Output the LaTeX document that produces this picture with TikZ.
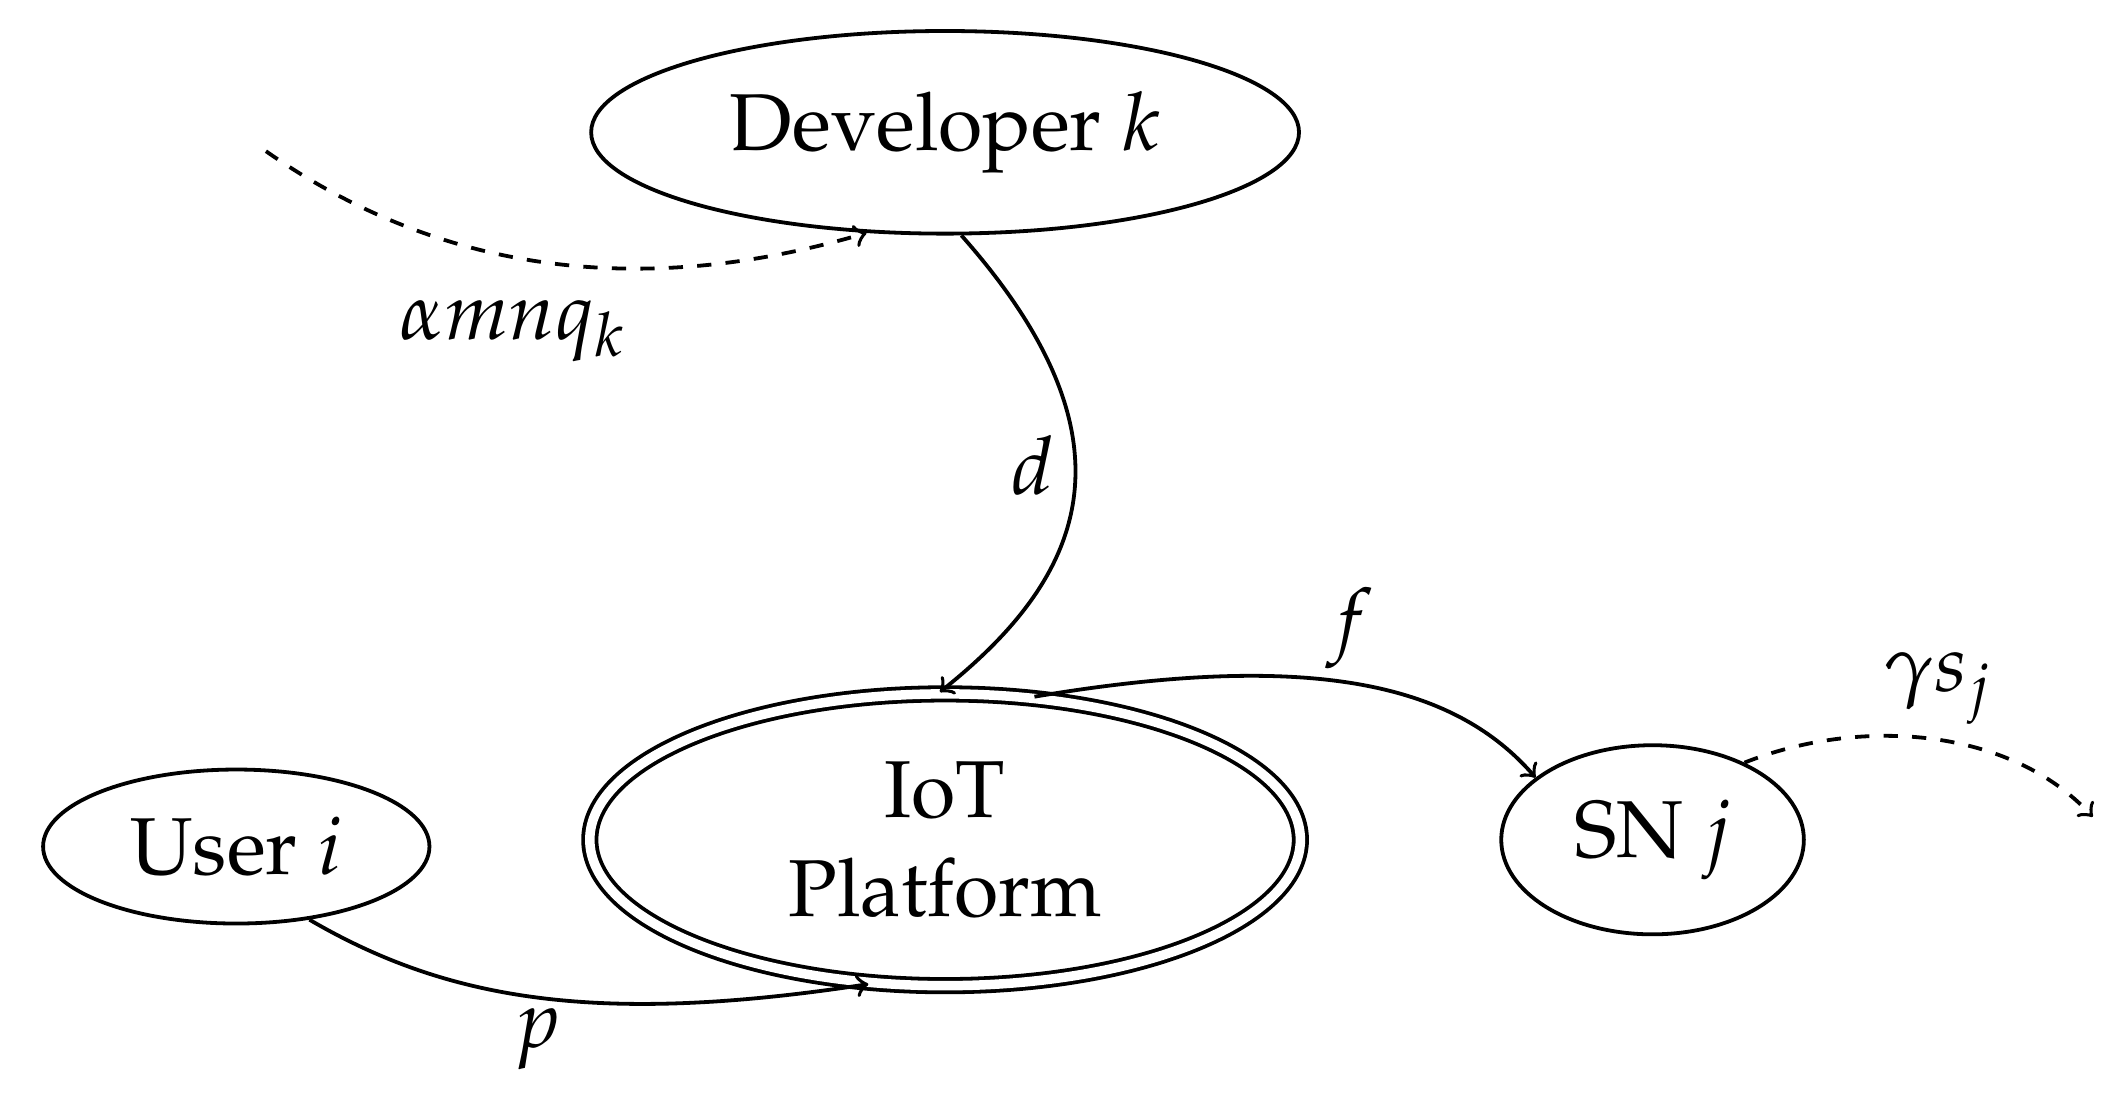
\documentclass[tikz,border=0pt]{standalone}
\usepackage[T1]{fontenc}
\usepackage{mathpazo}
\renewcommand{\rmdefault}{ppl}
\usetikzlibrary{shapes.geometric}
\begin{document}
\begin{tikzpicture}[x=0.01cm,y=-0.01cm,
  el/.style={ellipse,draw,thick,inner sep=0pt,font=\fontsize{17}{21}\selectfont,align=center},
  lab/.style={font=\fontsize{17}{21}\selectfont},
  con/.style={->,thick}]
\useasboundingbox (0,0) rectangle (1568,824);
\node[el,minimum width=5.24cm,minimum height=1.5cm] (dev) at (700,98) {Developer $k$};
\node[el,double,double distance=2pt,minimum width=5.26cm,minimum height=2.16cm] (iot) at (700,622) {IoT\\Platform};
\node[el,minimum width=2.86cm,minimum height=1.14cm] (user) at (175,627) {User $i$};
\node[el,minimum width=2.24cm,minimum height=1.4cm] (sn) at (1224,622) {SN $j$};
\coordinate (a0) at (197,112);
\coordinate (g1) at (1550,605);
\draw[con,dashed] (a0) .. controls (330,205) and (480,220) .. (dev.-128);
\draw[con] (dev.-81) .. controls (850,330) and (800,430) .. (iot.92);
\draw[con] (iot.58) .. controls (980,480) and (1080,510) .. (sn.152);
\draw[con,dashed] (sn.40) .. controls (1380,530) and (1490,540) .. (g1);
\draw[con] (user.-45) .. controls (330,740) and (440,760) .. (iot.-118);
\node[lab] (l1) at (380,245) {$\alpha m n q_k$};
\node[lab] (l2) at (765,345) {$d$};
\node[lab] (l3) at (1000,465) {$f$};
\node[lab] (l4) at (1435,510) {$\gamma s_j$};
\node[lab] (l5) at (398,770) {$p$};
\end{tikzpicture}
\end{document}
